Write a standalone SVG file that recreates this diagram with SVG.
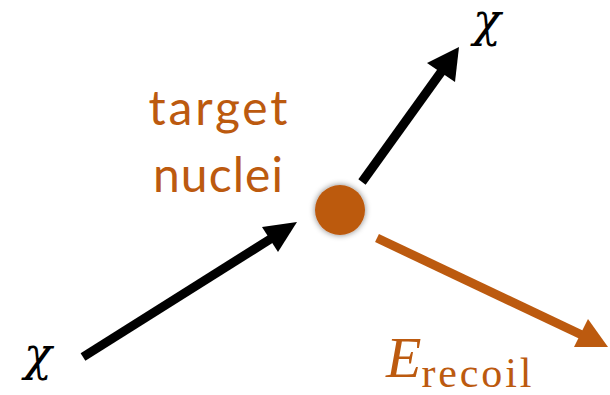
<svg xmlns="http://www.w3.org/2000/svg" width="610" height="395" viewBox="0 0 610 395">
<style>
.blk{stroke:#000;stroke-width:9;fill:none}
.org{stroke:#BC5A0F;stroke-width:9;fill:none}
.math{font-family:"DejaVu Serif","Liberation Serif",serif;font-style:italic;font-size:46px}
.lbl{font-family:Lato,"Open Sans",sans-serif;fill:#BC5A0F;font-size:48px;text-anchor:middle}
</style>
<defs>
<filter id="sh" x="-50%" y="-50%" width="200%" height="200%">
<feGaussianBlur in="SourceAlpha" stdDeviation="3"/>
<feComponentTransfer><feFuncA type="linear" slope="0.5"/></feComponentTransfer>
<feMerge><feMergeNode/><feMergeNode in="SourceGraphic"/></feMerge>
</filter>
</defs>
<g id="connectors">
<line class="blk" x1="83" y1="357" x2="272" y2="238"/>
<polygon points="297,222 262,227 278,252" fill="#000"/>
<line class="blk" x1="362" y1="182" x2="444" y2="68"/>
<polygon points="459,47 427,63 455,82" fill="#000"/>
<line class="org" x1="377" y1="238" x2="584" y2="336"/>
<polygon points="608,347 588,319 574,347" fill="#BC5A0F"/>
</g>
<g id="nucleus">
<circle cx="340" cy="210" r="25" fill="#BC5A0F" filter="url(#sh)"/>
<text class="lbl" x="218" y="125" textLength="139">target</text>
<text class="lbl" x="218" y="192" textLength="130">nuclei</text>
</g>
<g id="chi-in">
<text class="math" x="24" y="370">χ</text>
</g>
<g id="chi-out">
<text class="math" x="473" y="36">χ</text>
</g>
<g id="erecoil">
<text x="386" y="377" font-family="Liberation Serif,serif" fill="#BC5A0F"><tspan font-style="italic" font-size="58">E</tspan><tspan font-size="42" dy="10" textLength="110">recoil</tspan></text>
</g>
</svg>
